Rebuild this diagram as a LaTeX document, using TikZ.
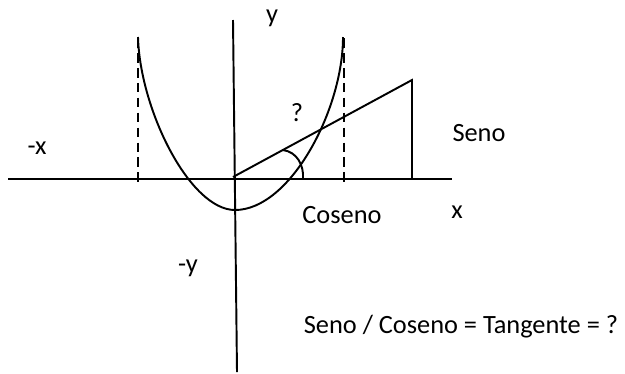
\documentclass[tikz,border=0pt]{standalone}
\usepackage{fontspec}
\setmainfont{Carlito}
\usetikzlibrary{calc}

\begin{document}
\begin{tikzpicture}[
  x=0.02cm, y=-0.02cm,
  % shared looks; every length below is in reference pixels
  axis/.style={line width=1.1pt},
  curv/.style={line width=1.1pt},
  guide/.style={line width=1.1pt, dash pattern=on 5.5pt off 3pt},
  lbl/.style={font=\fontsize{15}{18}\selectfont, inner sep=0pt},
]
\useasboundingbox (0,0) rectangle (625,373);

%% ── Axes ──────────────────────────────────────────────────────────
\coordinate (xL) at (8,179);
\coordinate (xR) at (452,179);
\coordinate (yT) at (233,20);
\coordinate (yB) at (237,372);
\draw[axis] (xL) -- (xR);
\draw[axis] (yT) -- (yB);

%% ── Dashed guides ─────────────────────────────────────────────────
\coordinate (gLt) at (138,38);  \coordinate (gLb) at (138,182);
\coordinate (gRt) at (344,38);  \coordinate (gRb) at (344,182);
\draw[guide] (gLt) -- (gLb);
\draw[guide] (gRt) -- (gRb);

%% ── U curve ───────────────────────────────────────────────────────
\coordinate (vtx) at (235,210);
\coordinate (uL)  at (138,37);
\coordinate (uR)  at (343,37);
\draw[curv] (uL) .. controls (140,110) and (190,210) .. (vtx)
                 .. controls (290,210) and (343,110) .. (uR);

%% ── Triangle (hypotenuse + opposite side) ─────────────────────────
\coordinate (O)   at (233,177);
\coordinate (top) at (412,80);
\coordinate (ft)  at (412,179);
\draw[axis] (O) -- (top) -- (ft);

%% ── Angle mark ────────────────────────────────────────────────────
\coordinate (a1) at (283,150);
\coordinate (a2) at (303,179);
\draw[curv] (a1) .. controls (297,152) and (304,165) .. (a2);

%% ── Labels ────────────────────────────────────────────────────────
\node[lbl] (ly)   at (272,18)  {y};
\node[lbl] (lq)   at (297,113) {?};
\node[lbl] (lcos) at (342,215) {Coseno};
\node[lbl] (lsen) at (479,133) {Seno};
\node[lbl] (lx)   at (457,212) {x};
\node[lbl] (lmx)  at (37,148)  {-x};
\node[lbl] (lmy)  at (188,268) {-y};
\node[lbl] (ltan) at (461,327) {Seno / Coseno = Tangente = ?};

\end{tikzpicture}
\end{document}
